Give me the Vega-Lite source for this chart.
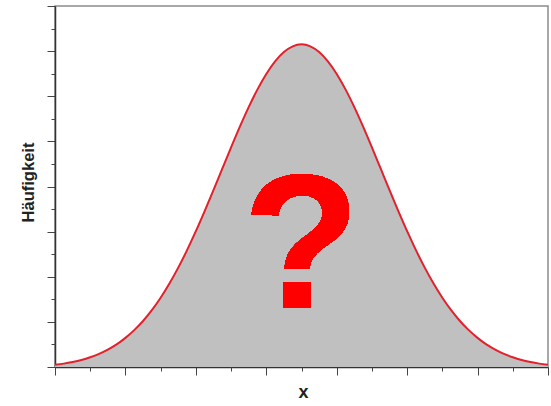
{
  "$schema": "https://vega.github.io/schema/vega-lite/v6.json",
  "width": 493,
  "height": 361,
  "autosize": {"type": "none"},
  "padding": {"left": 55, "top": 6, "right": 3, "bottom": 39},
  "background": "white",
  "config": {
    "view": {"stroke": "#8c8c8c", "strokeWidth": 1.5},
    "font": "Liberation Sans",
    "axis": {
      "grid": false,
      "labels": false,
      "domainColor": "#333333",
      "domainWidth": 1.5,
      "tickColor": "#444444",
      "tickWidth": 1,
      "titleFont": "Liberation Sans",
      "titleFontWeight": "bold",
      "titleColor": "#222222"
    }
  },
  "data": {
    "values": [
      {"x": 0, "h": 0.1}, {"x": 0.25, "h": 0.15}, {"x": 0.5, "h": 0.22}, {"x": 0.75, "h": 0.31},
      {"x": 1, "h": 0.43}, {"x": 1.25, "h": 0.58}, {"x": 1.5, "h": 0.77}, {"x": 1.75, "h": 1.0},
      {"x": 2, "h": 1.292}, {"x": 2.25, "h": 1.634}, {"x": 2.5, "h": 2.04}, {"x": 2.75, "h": 2.518},
      {"x": 3, "h": 3.07}, {"x": 3.25, "h": 3.699}, {"x": 3.5, "h": 4.403}, {"x": 3.75, "h": 5.179},
      {"x": 4, "h": 6.019}, {"x": 4.25, "h": 6.911}, {"x": 4.5, "h": 7.84}, {"x": 4.75, "h": 8.789},
      {"x": 5, "h": 9.734}, {"x": 5.25, "h": 10.652}, {"x": 5.5, "h": 11.518}, {"x": 5.75, "h": 12.305},
      {"x": 6, "h": 12.989}, {"x": 6.25, "h": 13.547}, {"x": 6.5, "h": 13.96}, {"x": 6.75, "h": 14.214},
      {"x": 7, "h": 14.3},
      {"x": 7.25, "h": 14.214}, {"x": 7.5, "h": 13.96}, {"x": 7.75, "h": 13.547}, {"x": 8, "h": 12.989},
      {"x": 8.25, "h": 12.305}, {"x": 8.5, "h": 11.518}, {"x": 8.75, "h": 10.652}, {"x": 9, "h": 9.734},
      {"x": 9.25, "h": 8.789}, {"x": 9.5, "h": 7.84}, {"x": 9.75, "h": 6.911}, {"x": 10, "h": 6.019},
      {"x": 10.25, "h": 5.179}, {"x": 10.5, "h": 4.403}, {"x": 10.75, "h": 3.699}, {"x": 11, "h": 3.07},
      {"x": 11.25, "h": 2.518}, {"x": 11.5, "h": 2.04}, {"x": 11.75, "h": 1.634}, {"x": 12, "h": 1.292},
      {"x": 12.25, "h": 1.0}, {"x": 12.5, "h": 0.77}, {"x": 12.75, "h": 0.58}, {"x": 13, "h": 0.43},
      {"x": 13.25, "h": 0.31}, {"x": 13.5, "h": 0.22}, {"x": 13.75, "h": 0.15}, {"x": 14, "h": 0.1}
    ]
  },
  "resolve": {"axis": {"x": "independent", "y": "independent"}},
  "layer": [
    {
      "mark": {"type": "area", "color": "#c0c0c0", "interpolate": "monotone"},
      "encoding": {
        "x": {
          "field": "x", "type": "quantitative",
          "scale": {"domain": [0, 14], "nice": false, "zero": false},
          "axis": {
            "orient": "bottom", "values": [0, 2, 4, 6, 8, 10, 12, 14], "tickSize": 8,
            "title": "x", "titleFontSize": 18, "titleX": 248, "titleY": 25,
            "titleBaseline": "middle", "titleAlign": "center"
          }
        },
        "y": {
          "field": "h", "type": "quantitative",
          "scale": {"domain": [0, 16], "nice": false},
          "axis": {
            "orient": "left", "values": [0, 2, 4, 6, 8, 10, 12, 14, 16], "tickSize": 8,
            "title": "Häufigkeit", "titleFontSize": 16.5, "titleAngle": -90,
            "titleX": -27, "titleY": 176, "titleBaseline": "middle", "titleAlign": "center"
          }
        }
      }
    },
    {
      "mark": {"type": "line", "color": "#e3202c", "strokeWidth": 2, "interpolate": "monotone"},
      "encoding": {
        "x": {
          "field": "x", "type": "quantitative",
          "axis": {
            "orient": "bottom", "values": [1, 3, 5, 7, 9, 11, 13], "tickSize": 4,
            "domain": false, "title": null
          }
        },
        "y": {
          "field": "h", "type": "quantitative",
          "axis": {
            "orient": "left", "values": [1, 3, 5, 7, 9, 11, 13, 15], "tickSize": 4,
            "domain": false, "title": null
          }
        }
      }
    },
    {
      "mark": {
        "type": "text", "text": "?", "font": "Liberation Sans", "fontWeight": "bold",
        "fontSize": 192, "color": "#ff0000", "align": "center", "baseline": "alphabetic"
      },
      "encoding": {
        "x": {"datum": 7, "type": "quantitative", "axis": null},
        "y": {"datum": 2.6, "type": "quantitative", "axis": null}
      }
    }
  ]
}
